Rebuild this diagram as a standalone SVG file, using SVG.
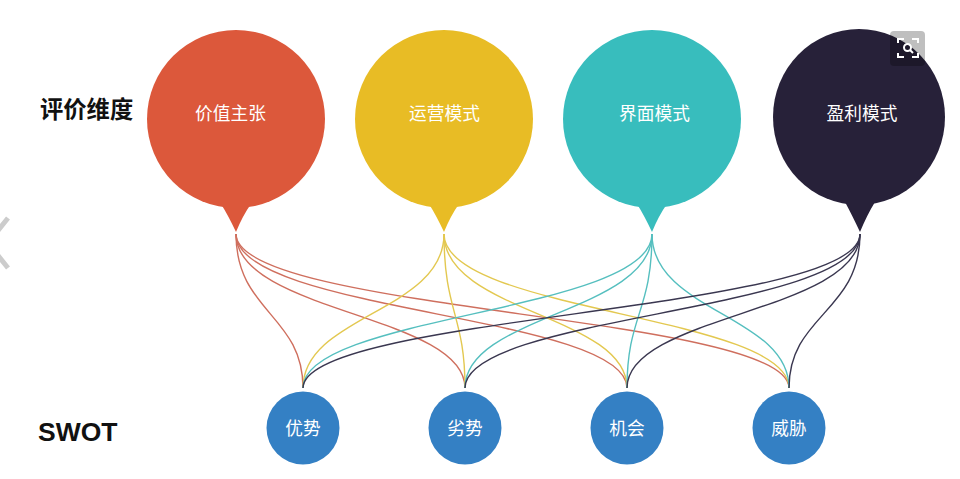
<svg xmlns="http://www.w3.org/2000/svg" width="960" height="479" viewBox="0 0 960 479">
<style>
.c{fill:none;stroke-width:1.4}
.r{stroke:#cf6f5e}.y{stroke:#e3c850}.t{stroke:#55bfbf}.d{stroke:#3a3750}
.l{font-family:"Noto Sans CJK SC","Noto Sans",sans-serif;font-size:17.700px;fill:#fff;text-anchor:middle}
.h{font-family:"Noto Sans CJK SC","Liberation Sans",sans-serif;font-weight:700;font-size:23.300px;fill:#111}
</style>
<rect width="960" height="479" fill="#fff"/>
<g id="connectors">
<path class="c r" d="M236 234C236 312 303 315 303 388"/>
<path class="c r" d="M236 234C236 312 465 315 465 388"/>
<path class="c r" d="M236 234C236 312 627 315 627 388"/>
<path class="c r" d="M236 234C236 312 789 315 789 388"/>
<path class="c y" d="M444 234C444 312 303 315 303 388"/>
<path class="c y" d="M444 234C444 312 465 315 465 388"/>
<path class="c y" d="M444 234C444 312 627 315 627 388"/>
<path class="c y" d="M444 234C444 312 789 315 789 388"/>
<path class="c t" d="M652 234C652 312 303 315 303 388"/>
<path class="c t" d="M652 234C652 312 465 315 465 388"/>
<path class="c t" d="M652 234C652 312 627 315 627 388"/>
<path class="c t" d="M652 234C652 312 789 315 789 388"/>
<path class="c d" d="M860 234C860 312 303 315 303 388"/>
<path class="c d" d="M860 234C860 312 465 315 465 388"/>
<path class="c d" d="M860 234C860 312 627 315 627 388"/>
<path class="c d" d="M860 234C860 312 789 315 789 388"/>
</g>
<g id="label-dimension"><text class="h" x="40" y="118">评价维度</text></g>
<g id="label-swot"><text x="38" y="441" font-family="'Liberation Sans',sans-serif" font-weight="700" font-size="26.500" fill="#111">SWOT</text></g>
<g id="node-value"><circle cx="236" cy="119" r="89" fill="#dc583b"/><path d="M221 204Q228 215 236 232Q243 215 251 204Z" fill="#dc583b"/><text class="l" x="230.500" y="120">价值主张</text></g>
<g id="node-ops"><circle cx="444" cy="119" r="89" fill="#e8bc25"/><path d="M429 204Q436 215 444 232Q451 215 459 204Z" fill="#e8bc25"/><text class="l" x="444.500" y="120">运营模式</text></g>
<g id="node-ui"><circle cx="652" cy="119" r="89" fill="#38bdbd"/><path d="M637 204Q644 215 652 232Q659 215 667 204Z" fill="#38bdbd"/><text class="l" x="654.500" y="120">界面模式</text></g>
<g id="node-profit"><ellipse cx="859" cy="117" rx="86" ry="88" fill="#272139"/><path d="M845 202Q852 215 860 232Q867 215 875 202Z" fill="#272139"/><text class="l" x="862" y="120">盈利模式</text></g>
<g id="node-s"><circle cx="303" cy="428" r="36.500" fill="#3480c4"/><text class="l" x="303" y="435">优势</text></g>
<g id="node-w"><circle cx="465" cy="428" r="36.500" fill="#3480c4"/><text class="l" x="465" y="435">劣势</text></g>
<g id="node-o"><circle cx="627" cy="428" r="36.500" fill="#3480c4"/><text class="l" x="627" y="435">机会</text></g>
<g id="node-t"><circle cx="789" cy="428" r="36.500" fill="#3480c4"/><text class="l" x="789" y="435">威胁</text></g>
<g id="zoom-button">
<rect x="890" y="31" width="35" height="35" rx="4" fill="#000" fill-opacity=".25"/>
<path d="M898 43V39H904M912 39H918V43M918 53V57H912M904 57H898V53" fill="none" stroke="#fff" stroke-width="2"/>
<circle cx="907.500" cy="47.500" r="3.500" fill="none" stroke="#fff" stroke-width="2"/>
<path d="M910 50L913 53" stroke="#fff" stroke-width="2"/>
</g>
<g id="prev-arrow"><path d="M8 218L-12 243L8 268" fill="none" stroke="#ccc" stroke-width="5"/></g>
</svg>
